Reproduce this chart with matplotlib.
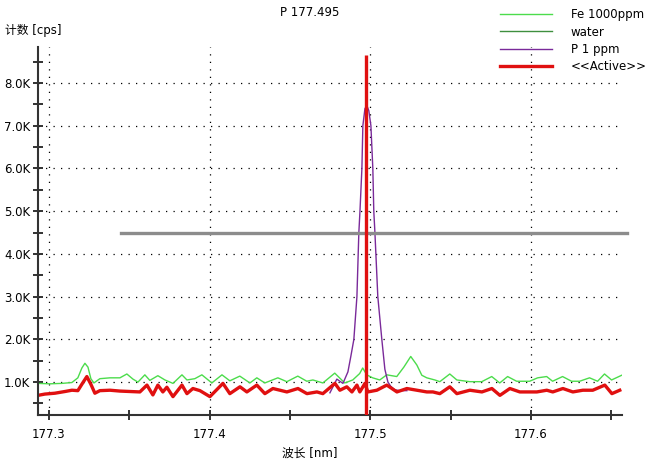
import matplotlib
matplotlib.use("Agg")
import matplotlib.pyplot as plt
from matplotlib.ticker import MultipleLocator, FuncFormatter

plt.rcParams["font.family"] = ["DejaVu Sans", "Noto Sans CJK SC"]

# Fe 1000ppm trace (wavelength nm, counts cps)
fe_wl = [177.2932, 177.3006, 177.3081, 177.3143, 177.3180, 177.3205, 177.3224, 177.3243,
         177.3261, 177.3280, 177.3317, 177.3380, 177.3442, 177.3485, 177.3523, 177.3554,
         177.3597, 177.3628, 177.3678, 177.3722, 177.3772, 177.3828, 177.3859, 177.3908,
         177.3952, 177.4014, 177.4077, 177.4126, 177.4188, 177.4251, 177.4294, 177.4344,
         177.4425, 177.4481, 177.4549, 177.4605, 177.4643, 177.4705, 177.4779, 177.4841,
         177.4891, 177.4934, 177.4953, 177.4978, 177.5015, 177.5059, 177.5103, 177.5165,
         177.5209, 177.5252, 177.5290, 177.5321, 177.5352, 177.5402, 177.5433, 177.5495,
         177.5539, 177.5620, 177.5694, 177.5756, 177.5806, 177.5855, 177.5911, 177.5992,
         177.6042, 177.6098, 177.6135, 177.6197, 177.6253, 177.6303, 177.6365, 177.6415,
         177.6458, 177.6502, 177.6565]
fe_cps = [970, 960, 970, 990, 1100, 1330, 1440, 1350,
          1080, 980, 1080, 1100, 1100, 1190, 1070, 1000,
          1170, 1040, 1150, 1050, 970, 1170, 1050, 1080,
          1170, 980, 1170, 1030, 1140, 980, 1100, 980,
          1100, 1010, 1140, 1020, 1050, 980, 1210, 980,
          1050, 1200, 1330, 1170, 1100, 1050, 1170, 1130,
          1350, 1600, 1400, 1160, 1100, 1050, 1010, 1190,
          1050, 1010, 1010, 1130, 980, 1130, 1020, 1020,
          1100, 1130, 1020, 1130, 1020, 1020, 1100, 1020,
          1190, 1050, 1160]

# water / active trace
water_wl = [177.2932, 177.2975, 177.3037, 177.3100, 177.3143, 177.3180, 177.3205, 177.3236,
            177.3261, 177.3286, 177.3317, 177.3380, 177.3442, 177.3504, 177.3566, 177.3610,
            177.3647, 177.3678, 177.3709, 177.3734, 177.3772, 177.3828, 177.3859, 177.3896,
            177.3940, 177.4002, 177.4083, 177.4126, 177.4189, 177.4232, 177.4294, 177.4344,
            177.4394, 177.4438, 177.4481, 177.4550, 177.4606, 177.4668, 177.4705, 177.4780,
            177.4811, 177.4854, 177.4886, 177.4917, 177.4935, 177.4967, 177.4985, 177.5041,
            177.5103, 177.5166, 177.5228, 177.5290, 177.5352, 177.5390, 177.5433, 177.5495,
            177.5539, 177.5620, 177.5695, 177.5757, 177.5807, 177.5869, 177.5931, 177.6037,
            177.6099, 177.6136, 177.6199, 177.6261, 177.6323, 177.6385, 177.6460, 177.6504,
            177.6553]
water_cps = [690, 720, 740, 780, 810, 800, 950, 1130,
             950, 740, 800, 810, 790, 780, 770, 930,
             700, 930, 770, 880, 660, 930, 730, 850,
             800, 660, 970, 730, 890, 770, 930, 730,
             850, 810, 770, 850, 730, 770, 730, 970,
             810, 890, 770, 930, 770, 970, 770, 810,
             930, 770, 850, 810, 770, 770, 730, 890,
             730, 810, 770, 850, 690, 850, 770, 770,
             810, 770, 850, 770, 810, 810, 930, 730,
             810]

# P 1 ppm peak region (elsewhere it lies under the water trace)
p_wl = [177.4749, 177.4792, 177.4830, 177.4861, 177.4879, 177.4898, 177.4917, 177.4929,
        177.4936, 177.4948, 177.4954, 177.4967, 177.4979, 177.4991, 177.5004, 177.5016,
        177.5022, 177.5029, 177.5047, 177.5072, 177.5091, 177.5110, 177.5128, 177.5153,
        177.5184, 177.5228]
p_cps = [750, 1070, 970, 1240, 1600, 2000, 3000, 4500,
         5000, 6000, 7000, 7400, 7470, 7350, 7000, 6000,
         5000, 4500, 3000, 2000, 1300, 1000, 900, 820,
         800, 800]

marker_wl = 177.4975
marker_top = 8660
level_cps = 4500
level_wl = [177.3448, 177.6600]

fig = plt.figure(figsize=(6.52, 4.65), dpi=100)
ax = fig.add_axes([0.0583, 0.1075, 0.8957, 0.7914])

ax.plot(fe_wl, fe_cps, color="#4cdc4c", lw=1.0, label="Fe 1000ppm")
ax.plot(water_wl, water_cps, color="#3f8f3f", lw=1.0, label="water")
ax.plot(p_wl, p_cps, color="#7a2a9a", lw=1.0, label="P 1 ppm")
ax.plot(water_wl, water_cps, color="#e01010", lw=2.4, label="<<Active>>")
ax.plot(level_wl, [level_cps, level_cps], color="#8c8c8c", lw=2.4, clip_on=False, zorder=5)
ax.vlines(marker_wl, 230, marker_top, color="#e01010", lw=2.4, zorder=6)

ax.set_xlim(177.2932, 177.6567)
ax.set_ylim(230, 8840)
ax.xaxis.set_major_locator(MultipleLocator(0.1))
ax.xaxis.set_minor_locator(MultipleLocator(0.05))
ax.yaxis.set_major_locator(MultipleLocator(1000))
ax.yaxis.set_minor_locator(MultipleLocator(500))
ax.yaxis.set_major_formatter(FuncFormatter(lambda v, p: f"{v/1000:.1f}K"))
ax.xaxis.set_major_formatter(FuncFormatter(lambda v, p: f"{v:.1f}"))

ax.tick_params(which="both", direction="inout", length=7, width=1.3, colors="#222222",
               labelsize=8.5, labelcolor="black")
ax.tick_params(axis="x", pad=6)
ax.tick_params(axis="y", pad=2)
ax.grid(True, which="major", color="black", lw=0.9, ls=(0, (1, 5)))
for s in ["top", "right"]:
    ax.spines[s].set_visible(False)
for s in ["left", "bottom"]:
    ax.spines[s].set_linewidth(1.5)
    ax.spines[s].set_color("#333333")

fig.text(0.475, 0.973, "P 177.495", ha="center", va="center", fontsize=8.5)
fig.text(0.008, 0.935, "计数 [cps]", ha="left", va="center", fontsize=8.5)
fig.text(0.475, 0.026, "波长 [nm]", ha="center", va="center", fontsize=8.5)

ax.legend(loc="upper left", bbox_to_anchor=(0.767, 0.982), bbox_transform=fig.transFigure,
          frameon=False, fontsize=8.5, handlelength=4.4, handletextpad=1.6,
          labelspacing=0.36, borderpad=0, borderaxespad=0)

plt.savefig("out.png", dpi=100)
